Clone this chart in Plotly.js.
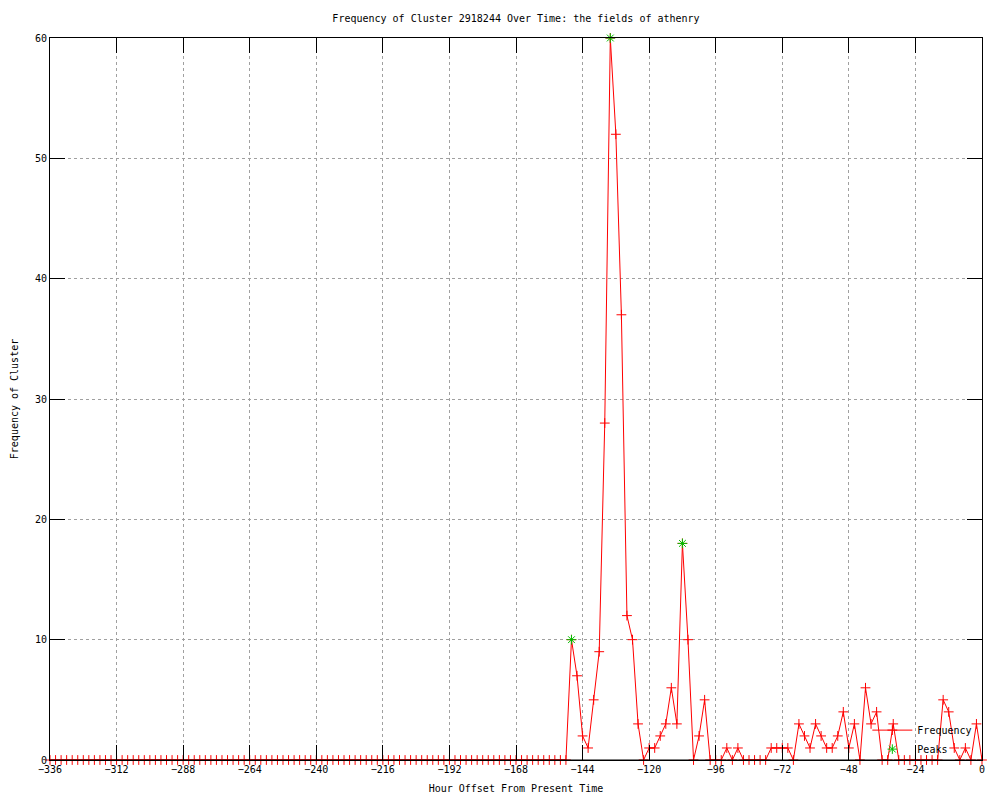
<!DOCTYPE html>
<html>
<head>
<meta charset="utf-8">
<script src="https://cdn.plot.ly/plotly-3.0.1.min.js"></script>
<style>html,body{margin:0;padding:0;background:#fff;}</style>
</head>
<body>
<div id="chart" style="width:1000px;height:800px;"></div>
<script>
// Hour offsets (every 2 hours) and cluster frequency
const hours = [
 -336,-334,-332,-330,-328,-326,-324,-322,-320,-318,-316,-314,-312,-310,-308,-306,-304,-302,-300,-298,
 -296,-294,-292,-290,-288,-286,-284,-282,-280,-278,-276,-274,-272,-270,-268,-266,-264,-262,-260,-258,
 -256,-254,-252,-250,-248,-246,-244,-242,-240,-238,-236,-234,-232,-230,-228,-226,-224,-222,-220,-218,
 -216,-214,-212,-210,-208,-206,-204,-202,-200,-198,-196,-194,-192,-190,-188,-186,-184,-182,-180,-178,
 -176,-174,-172,-170,-168,-166,-164,-162,-160,-158,-156,-154,-152,-150,-148,-146,-144,-142,-140,-138,
 -136,-134,-132,-130,-128,-126,-124,-122,-120,-118,-116,-114,-112,-110,-108,-106,-104,-102,-100,-98,
 -96,-94,-92,-90,-88,-86,-84,-82,-80,-78,-76,-74,-72,-70,-68,-66,-64,-62,-60,-58,
 -56,-54,-52,-50,-48,-46,-44,-42,-40,-38,-36,-34,-32,-30,-28,-26,-24,-22,-20,-18,
 -16,-14,-12,-10,-8,-6,-4,-2,0
];
const frequency = [
 0,0,0,0,0,0,0,0,0,0,0,0,0,0,0,0,0,0,0,0,
 0,0,0,0,0,0,0,0,0,0,0,0,0,0,0,0,0,0,0,0,
 0,0,0,0,0,0,0,0,0,0,0,0,0,0,0,0,0,0,0,0,
 0,0,0,0,0,0,0,0,0,0,0,0,0,0,0,0,0,0,0,0,
 0,0,0,0,0,0,0,0,0,0,0,0,0,0,10,7,2,1,5,9,
 28,60,52,37,12,10,3,0,1,1,2,3,6,3,18,10,0,2,5,0,
 0,0,1,0,1,0,0,0,0,0,1,1,1,1,0,3,2,1,3,2,
 1,1,2,4,1,3,0,6,3,4,0,0,3,0,0,0,0,0,0,0,
 0,5,4,1,0,1,0,3,0
];
const peakHours = [-148, -134, -108];
const peakValues = [10, 60, 18];
const xTicks = [-336,-312,-288,-264,-240,-216,-192,-168,-144,-120,-96,-72,-48,-24,0];
const yTicks = [0,10,20,30,40,50,60];

const FONT = 'DejaVu Sans Mono, monospace';

const traces = [
  {
    x: hours, y: frequency, name: 'Frequency', type: 'scatter', mode: 'lines+markers',
    line: {color: '#ff0000', width: 1},
    marker: {symbol: 'cross-thin-open', size: 7, color: '#ff0000', line: {color: '#ff0000', width: 1}},
    cliponaxis: false
  },
  {
    x: peakHours, y: peakValues, name: 'Peaks', type: 'scatter', mode: 'markers',
    marker: {symbol: 'asterisk-open', size: 8, color: '#00c000', line: {color: '#00c000', width: 1}},
    cliponaxis: false
  }
];

const axisCommon = {
  showline: true, linecolor: '#000', linewidth: 1, mirror: 'allticks',
  ticks: 'inside', ticklen: 15, tickcolor: '#000', tickwidth: 1,
  showgrid: true, gridcolor: '#a0a0a0', gridwidth: 1, griddash: 'dot',
  zeroline: false, tickfont: {family: FONT, size: 10, color: '#000'}
};

const layout = {
  width: 1000, height: 800,
  margin: {l: 50, r: 18, t: 38, b: 40},
  paper_bgcolor: '#fff', plot_bgcolor: '#fff',
  font: {family: FONT, size: 10, color: '#000'},
  title: {text: 'Frequency of Cluster 2918244 Over Time: the fields of athenry',
          font: {family: FONT, size: 10, color: '#000'},
          x: 0.5, xref: 'paper', y: 1 - 18/800, yref: 'container', yanchor: 'middle'},
  xaxis: Object.assign({}, axisCommon, {
    range: [-336, 0], tickmode: 'array', tickvals: xTicks,
    title: {text: 'Hour Offset From Present Time', font: {family: FONT, size: 10, color: '#000'}, standoff: 10}
  }),
  yaxis: Object.assign({}, axisCommon, {
    range: [0, 60], tickmode: 'array', tickvals: yTicks,
    title: {text: 'Frequency of Cluster', font: {family: FONT, size: 10, color: '#000'}, standoff: 14}
  }),
  shapes: [
    {type: 'line', xref: 'paper', yref: 'paper', x0: 0, x1: 1, y0: 0, y1: 0,
     line: {color: '#000', width: 1}, layer: 'above'}
  ],
  showlegend: true,
  legend: {x: 0.995, xanchor: 'right', y: -0.005, yanchor: 'bottom', bgcolor: 'rgba(0,0,0,0)',
           font: {family: FONT, size: 10, color: '#000'}, tracegroupgap: 0, itemwidth: 40}
};

Plotly.newPlot('chart', traces, layout, {displayModeBar: false, staticPlot: true});
</script>
</body>
</html>
